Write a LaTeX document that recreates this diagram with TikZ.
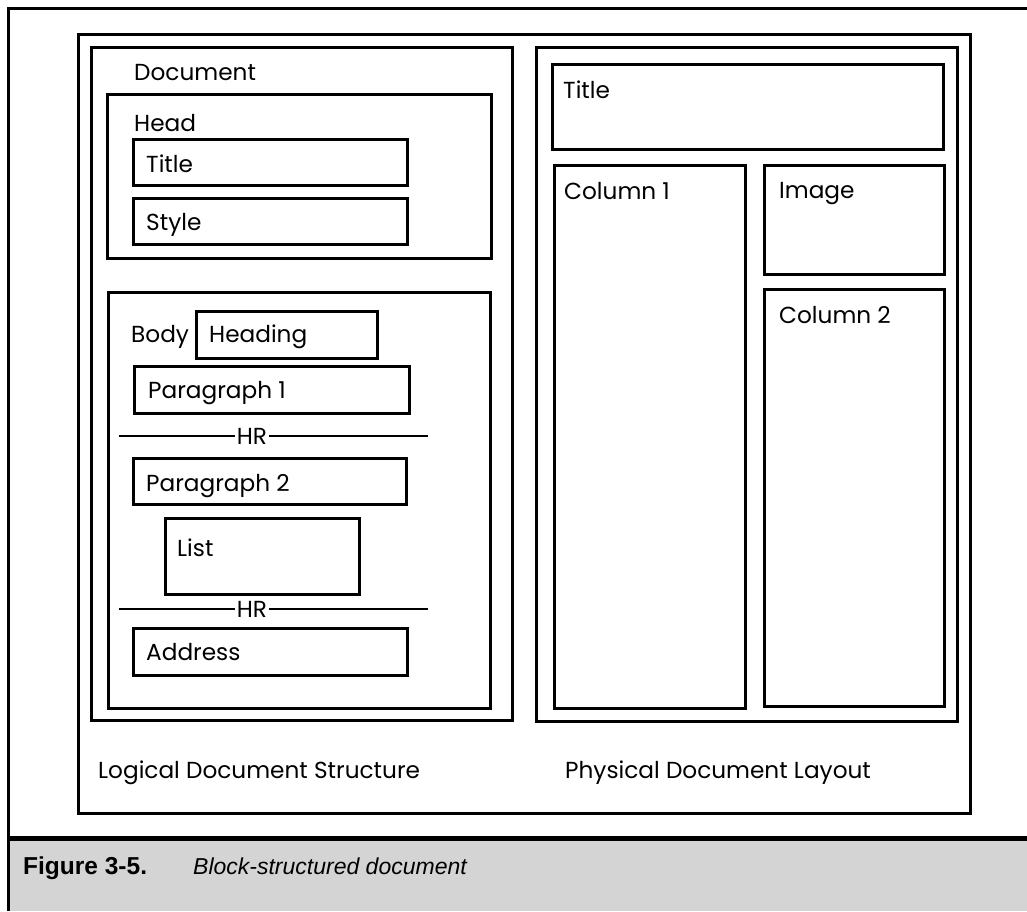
\documentclass[tikz,border=0pt]{standalone}
\usepackage{fontspec}
\setmainfont{Poppins}
\newfontfamily\capfont{Liberation Sans}
\definecolor{capgrey}{RGB}{212,212,212}
\tikzset{
  box/.style={draw=black, line width=2.6pt, fill=none},
  lbl/.style={font=\fontsize{23.2}{27}\selectfont, inner sep=0pt, anchor=base west},
  hrlbl/.style={font=\fontsize{23.2}{27}\selectfont, inner xsep=2pt, inner ysep=2pt, anchor=base},
  rule/.style={draw=black, line width=2.4pt},
  frameline/.style={draw=black, line width=3pt},
}
\begin{document}
\begin{tikzpicture}[x=1pt,y=-1pt]
\useasboundingbox (0,0) rectangle (1027,911);
% caption band
\fill[capgrey] (8,838) rectangle (1027,911);
\draw[draw=black, line width=5pt] (8,838.5) -- (1027,838.5);
\draw[frameline] (1027,8) -- (8,8) -- (8,911);
\node[font=\capfont\bfseries\fontsize{24.5}{28}\selectfont, inner sep=0pt, anchor=base west] (fig) at (23,874) {Figure 3-5.};
\node[font=\capfont\itshape\fontsize{23}{28}\selectfont, inner sep=0pt, anchor=base west] (cap) at (193,874) {Block-structured document};
% outer frame
\node[box, minimum width=892pt, minimum height=779pt, anchor=north west] (outer) at (77,33) {};
% panels
\node[box, minimum width=421pt, minimum height=673pt, anchor=north west] (logical) at (90,46) {};
\node[box, minimum width=421pt, minimum height=674pt, anchor=north west] (physical) at (535,46) {};
% logical structure
\node[lbl] (tdoc) at (134,80) {Document};
\node[box, minimum width=384pt, minimum height=164pt, anchor=north west] (head) at (106,93) {};
\node[lbl] (thead) at (134,131) {Head};
\node[box, minimum width=274pt, minimum height=46pt, anchor=north west] (ltitle) at (132,138) {};
\node[lbl] (tltitle) at (146,172) {Title};
\node[box, minimum width=274pt, minimum height=46pt, anchor=north west] (style) at (132,197) {};
\node[lbl] (tstyle) at (146,230) {Style};
\node[box, minimum width=382pt, minimum height=416pt, anchor=north west] (body) at (107,291) {};
\node[lbl] (tbody) at (131,342) {Body};
\node[box, minimum width=181pt, minimum height=47pt, anchor=north west] (heading) at (195,310) {};
\node[lbl] (theading) at (209,342) {Heading};
\node[box, minimum width=275pt, minimum height=47pt, anchor=north west] (para1) at (133,365) {};
\node[lbl] (tpara1) at (148,398) {Paragraph 1};
\node[hrlbl] (hr1) at (252,444) {HR};
\coordinate (hr1l) at (119,436);
\coordinate (hr1r) at (428,436);
\draw[rule] (hr1l) -- (hr1.west |- hr1l);
\draw[rule] (hr1.east |- hr1r) -- (hr1r);
\node[box, minimum width=273pt, minimum height=46pt, anchor=north west] (para2) at (132,457) {};
\node[lbl] (tpara2) at (146,491) {Paragraph 2};
\node[box, minimum width=194pt, minimum height=76pt, anchor=north west] (list) at (164,517) {};
\node[lbl] (tlist) at (177,556) {List};
\node[hrlbl] (hr2) at (252,617) {HR};
\coordinate (hr2l) at (119,609);
\coordinate (hr2r) at (428,609);
\draw[rule] (hr2l) -- (hr2.west |- hr2l);
\draw[rule] (hr2.east |- hr2r) -- (hr2r);
\node[box, minimum width=274pt, minimum height=47pt, anchor=north west] (address) at (132,627) {};
\node[lbl] (taddress) at (146,660) {Address};
% physical layout
\node[box, minimum width=391pt, minimum height=85pt, anchor=north west] (rtitle) at (551,63) {};
\node[lbl] (trtitle) at (563,98) {Title};
\node[box, minimum width=191pt, minimum height=543pt, anchor=north west] (col1) at (553,164) {};
\node[lbl] (tcol1) at (564,199) {Column 1};
\node[box, minimum width=180pt, minimum height=109pt, anchor=north west] (image) at (763,164) {};
\node[lbl] (timage) at (779,198) {Image};
\node[box, minimum width=180pt, minimum height=417pt, anchor=north west] (col2) at (763,288) {};
\node[lbl] (tcol2) at (779,323) {Column 2};
% panel captions
\node[lbl] (tlogical) at (98,778) {Logical Document Structure};
\node[lbl] (tphysical) at (565,778) {Physical Document Layout};
\end{tikzpicture}
\end{document}
